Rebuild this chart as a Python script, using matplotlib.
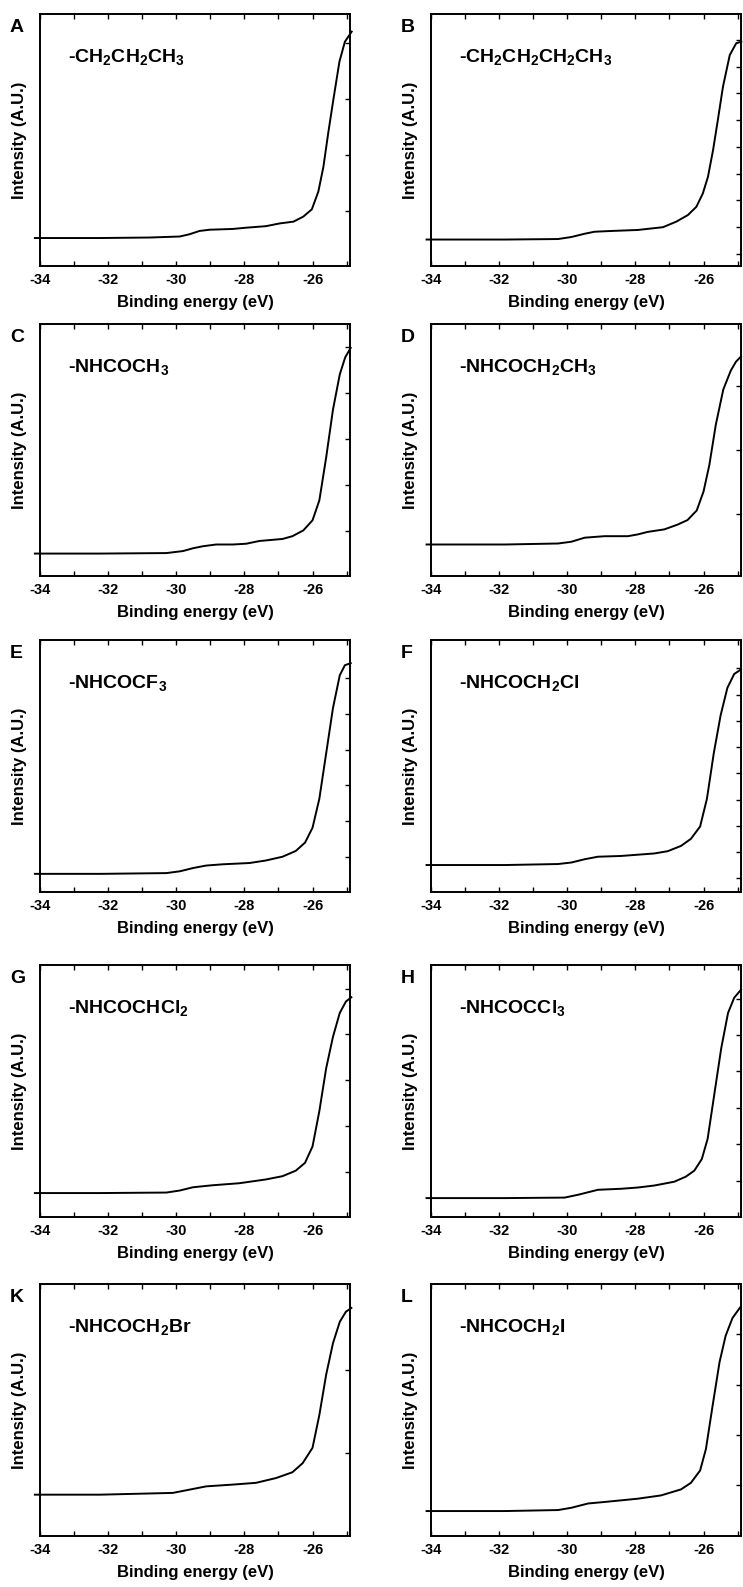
import numpy as np
import matplotlib
matplotlib.use("Agg")
import matplotlib.pyplot as plt
from matplotlib.ticker import MultipleLocator, FixedLocator

plt.rcParams['font.family'] = ['Liberation Sans', 'DejaVu Sans']
plt.rcParams['font.weight'] = 'bold'
plt.rcParams['mathtext.fontset'] = 'custom'
plt.rcParams['mathtext.rm'] = 'Liberation Sans:bold'
plt.rcParams['mathtext.default'] = 'rm'

# panel letters and substituent names
letters = ['A', 'B', 'C', 'D', 'E', 'F', 'G', 'H', 'K', 'L']
names = ['-CH$_2$CH$_2$CH$_3$', '-CH$_2$CH$_2$CH$_2$CH$_3$',
         '-NHCOCH$_3$', '-NHCOCH$_2$CH$_3$',
         '-NHCOCF$_3$', '-NHCOCH$_2$Cl',
         '-NHCOCHCl$_2$', '-NHCOCCl$_3$',
         '-NHCOCH$_2$Br', '-NHCOCH$_2$I']

# binding energy (eV) and intensity (fraction of axis range)
eA = [-34.15, -32.24, -30.78, -29.9, -29.61, -29.32, -29.02, -28.34, -27.95, -27.37,
      -26.96, -26.56, -26.27, -26.02, -25.83, -25.68, -25.54, -25.39, -25.21, -25.05, -24.85]
iA = [0.111, 0.111, 0.113, 0.117, 0.126, 0.139, 0.144, 0.147, 0.152, 0.158,
      0.169, 0.176, 0.196, 0.225, 0.295, 0.394, 0.527, 0.659, 0.811, 0.890, 0.930]

eB = [-34.13, -31.83, -30.27, -29.88, -29.49, -29.2, -28.71, -27.93, -27.19, -26.8,
      -26.46, -26.21, -26.02, -25.87, -25.72, -25.58, -25.43, -25.23, -25.04, -24.89]
iB = [0.105, 0.105, 0.107, 0.115, 0.128, 0.136, 0.139, 0.143, 0.154, 0.176,
      0.202, 0.235, 0.288, 0.354, 0.460, 0.579, 0.711, 0.837, 0.884, 0.890]

eC = [-34.15, -32.24, -30.29, -29.8, -29.51, -29.22, -28.83, -28.34, -27.95, -27.56,
      -26.88, -26.59, -26.27, -26.0, -25.8, -25.6, -25.4, -25.2, -25.04, -24.88]
iC = [0.089, 0.089, 0.091, 0.099, 0.110, 0.118, 0.125, 0.125, 0.128, 0.139,
      0.147, 0.158, 0.181, 0.221, 0.300, 0.470, 0.660, 0.800, 0.868, 0.905]

eD = [-34.13, -31.83, -30.27, -29.88, -29.49, -28.91, -28.22, -27.93, -27.64, -27.15,
      -26.76, -26.47, -26.2, -26.0, -25.83, -25.64, -25.42, -25.2, -25.05, -24.9]
iD = [0.125, 0.125, 0.129, 0.136, 0.152, 0.158, 0.158, 0.165, 0.175, 0.185,
      0.204, 0.222, 0.260, 0.335, 0.440, 0.600, 0.740, 0.815, 0.850, 0.871]

eE = [-34.15, -32.24, -30.29, -29.9, -29.51, -29.12, -28.63, -27.85, -27.37, -26.88,
      -26.49, -26.22, -26.0, -25.8, -25.6, -25.4, -25.2, -25.05, -24.88]
iE = [0.072, 0.072, 0.075, 0.082, 0.095, 0.105, 0.110, 0.115, 0.125, 0.140,
      0.163, 0.196, 0.255, 0.370, 0.550, 0.730, 0.860, 0.900, 0.908]

eF = [-34.13, -31.83, -30.27, -29.88, -29.49, -29.1, -28.42, -27.44, -27.05, -26.66,
      -26.37, -26.1, -25.9, -25.7, -25.5, -25.3, -25.1, -24.9]
iF = [0.107, 0.107, 0.111, 0.117, 0.130, 0.140, 0.143, 0.153, 0.162, 0.183,
      0.211, 0.260, 0.370, 0.550, 0.700, 0.810, 0.865, 0.883]

eG = [-34.15, -32.24, -30.29, -29.9, -29.51, -28.93, -28.15, -27.37, -26.88, -26.49,
      -26.22, -26.0, -25.8, -25.6, -25.4, -25.2, -25.02, -24.86]
iG = [0.095, 0.095, 0.097, 0.105, 0.118, 0.126, 0.134, 0.149, 0.162, 0.184,
      0.215, 0.280, 0.420, 0.590, 0.715, 0.810, 0.855, 0.872]

eH = [-34.13, -31.83, -30.08, -29.69, -29.1, -28.42, -27.93, -27.44, -26.86, -26.52,
      -26.27, -26.05, -25.88, -25.68, -25.48, -25.28, -25.1, -24.9]
iH = [0.075, 0.075, 0.077, 0.088, 0.108, 0.112, 0.117, 0.125, 0.140, 0.160,
      0.184, 0.230, 0.310, 0.490, 0.670, 0.810, 0.870, 0.902]

eK = [-34.15, -32.24, -30.1, -29.61, -29.12, -28.34, -27.66, -27.07, -26.59, -26.29,
      -26.0, -25.8, -25.6, -25.4, -25.2, -25.02, -24.86]
iK = [0.164, 0.164, 0.171, 0.184, 0.197, 0.204, 0.211, 0.230, 0.253, 0.289,
      0.350, 0.480, 0.640, 0.765, 0.850, 0.890, 0.905]

eL = [-34.13, -31.83, -30.27, -29.88, -29.39, -28.91, -27.93, -27.25, -26.66, -26.37,
      -26.1, -25.93, -25.73, -25.53, -25.35, -25.15, -24.92]
iL = [0.099, 0.099, 0.103, 0.112, 0.129, 0.135, 0.148, 0.161, 0.185, 0.211,
      0.260, 0.345, 0.520, 0.690, 0.795, 0.865, 0.908]

energies = [eA, eB, eC, eD, eE, eF, eG, eH, eK, eL]
intens = [iA, iB, iC, iD, iE, iF, iG, iH, iK, iL]

# right-hand tick spacing / first tick per panel
ystep = [0.222, 0.106, 0.182, 0.252, 0.1415, 0.104, 0.1815, 0.1445, 0.3305, 0.2]
yfirst = [0.22, 0.049, 0.179, 0.248, 0.140, 0.055, 0.180, 0.144, 0.330, 0.2005]

W, H = 743, 1587
fig = plt.figure(figsize=(W / 100, H / 100), dpi=100)
lefts = [40, 431]
tops = [14, 324, 640, 965, 1284]
aw, ah = 310, 252

for k in range(10):
    row, col = k // 2, k % 2
    ax = fig.add_axes([lefts[col] / W, 1 - (tops[row] + ah) / H, aw / W, ah / H])
    ax.plot(energies[k], intens[k], color='black', lw=1.4, clip_on=False,
            solid_joinstyle='round')
    ax.set_xlim(-34, -24.9)
    ax.set_ylim(0, 1)
    ax.set_xticks([-34, -32, -30, -28, -26])
    ax.set_xticklabels(['-34', '-32', '-30', '-28', '-26'])
    ax.xaxis.set_minor_locator(MultipleLocator(1))
    ax.tick_params(axis='x', which='both', direction='in', top=True, bottom=True,
                   length=3.5, width=1, labelsize=10.5, pad=5)
    yt = np.arange(yfirst[k], 0.97, ystep[k])
    ax.yaxis.set_major_locator(FixedLocator(yt))
    ax.tick_params(axis='y', which='both', direction='in', left=False, right=True,
                   labelleft=False, labelright=False, length=3.5, width=1)
    for s in ax.spines.values():
        s.set_linewidth(1.4)
    ax.set_xlabel('Binding energy (eV)', fontsize=12, fontweight='bold')
    ax.xaxis.set_label_coords(0.5, -0.115)
    ax.set_ylabel('Intensity (A.U.)', fontsize=12, fontweight='bold')
    ax.yaxis.set_label_coords(-0.042, 0.5)
    ax.text(-30 / aw, 1 - 18 / ah, letters[k], transform=ax.transAxes,
            fontsize=14, fontweight='bold', ha='left', va='baseline')
    ax.text(0.09, 0.81, names[k], transform=ax.transAxes,
            fontsize=14, fontweight='bold', ha='left', va='baseline')

fig.savefig('out.png', dpi=100)
